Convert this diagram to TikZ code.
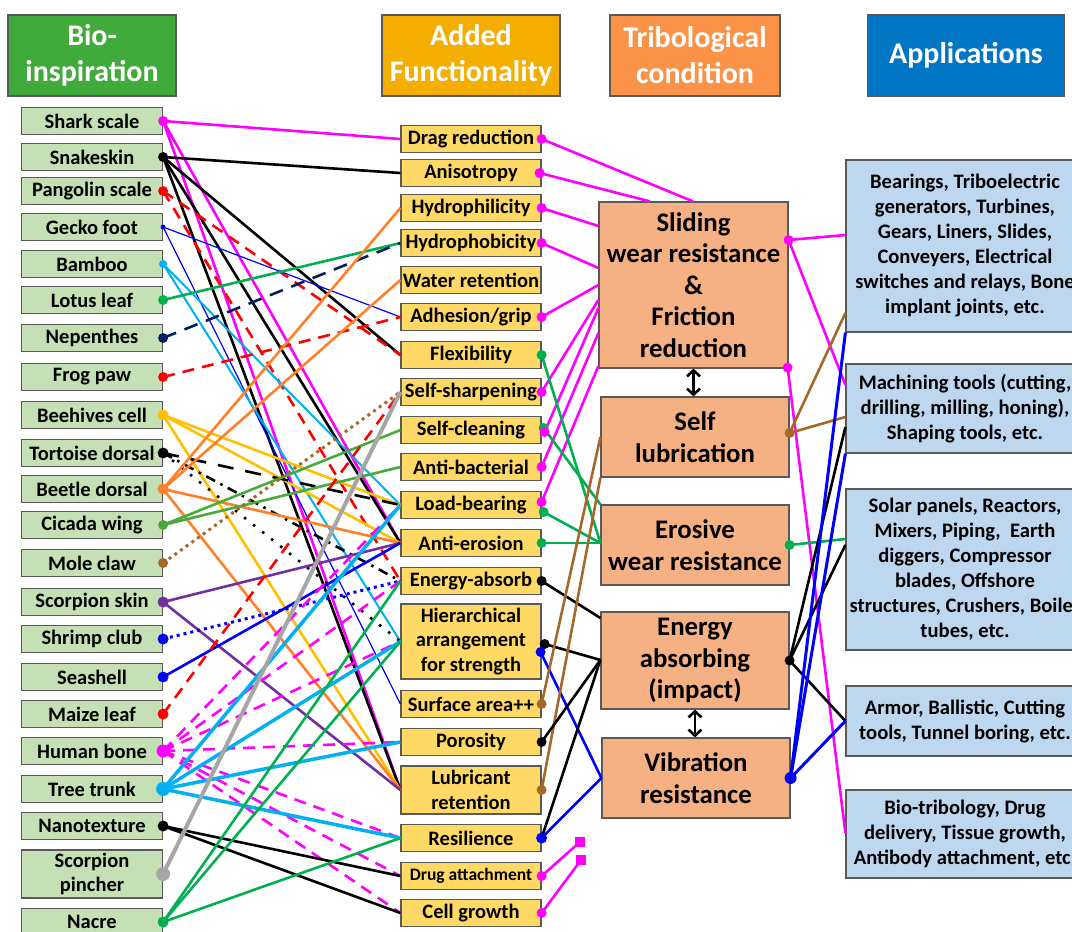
\documentclass[tikz,border=0pt]{standalone}
\usepackage{fontspec}
\setmainfont{Carlito}
\usetikzlibrary{arrows.meta}
\definecolor{hdrgreen}{RGB}{64,170,58}
\definecolor{hdrgold}{RGB}{243,174,0}
\definecolor{hdrorange}{RGB}{250,146,72}
\definecolor{hdrblue}{RGB}{0,118,196}
\definecolor{biofill}{RGB}{197,224,180}
\definecolor{funfill}{RGB}{255,217,102}
\definecolor{trifill}{RGB}{245,177,131}
\definecolor{appfill}{RGB}{189,215,238}
\definecolor{edgec}{RGB}{89,89,89}
\definecolor{cmag}{RGB}{255,0,255}
\definecolor{cred}{RGB}{255,0,0}
\definecolor{cblue}{RGB}{0,0,255}
\definecolor{lblue}{RGB}{0,176,240}
\definecolor{cgreen}{RGB}{0,176,80}
\definecolor{cicgreen}{RGB}{72,170,60}
\definecolor{cnavy}{RGB}{0,32,96}
\definecolor{cyellow}{RGB}{255,192,0}
\definecolor{corange}{RGB}{255,128,40}
\definecolor{cbrown}{RGB}{165,104,42}
\definecolor{cpurple}{RGB}{112,48,160}
\definecolor{cgray}{RGB}{166,166,166}
\begin{document}
\begin{tikzpicture}[x=1pt,y=-1pt,
  box/.style={draw=edgec, line width=1.2pt, inner sep=0pt, align=center, text=black},
  hdr/.style={box, minimum height=81pt, text=white, font=\fontsize{30}{36}\selectfont\bfseries},
  bio/.style={box, fill=biofill, minimum width=141pt, minimum height=27pt, font=\fontsize{20.5}{24.5}\selectfont\bfseries},
  fun/.style={box, fill=funfill, minimum width=140pt, minimum height=27pt, font=\fontsize{20.5}{24.5}\selectfont\bfseries},
  tri/.style={box, fill=trifill, minimum width=188pt, font=\fontsize{26.8}{31.5}\selectfont\bfseries},
  app/.style={box, fill=appfill, minimum width=238pt, font=\fontsize{20.6}{25}\selectfont\bfseries},
  ln/.style={line width=2.6pt},
  magS/.style={ln, cmag},
  blk/.style={ln, black},
  redD/.style={ln, cred, dash pattern=on 12pt off 8pt},
  bluT/.style={line width=1.2pt, cblue},
  lbM/.style={line width=2pt, lblue},
  grn/.style={ln, cgreen},
  navD/.style={ln, cnavy, dash pattern=on 14pt off 9pt},
  ylw/.style={ln, cyellow},
  tlong/.style={ln, black, dash pattern=on 16pt off 12pt},
  tdashdot/.style={ln, black, dash pattern=on 10pt off 6pt on 2.5pt off 6pt},
  tdot/.style={ln, black, dash pattern=on 2.5pt off 9pt},
  org/.style={ln, corange},
  cic/.style={ln, cicgreen},
  brnDot/.style={line width=3pt, cbrown, dash pattern=on 3pt off 4pt},
  pur/.style={ln, cpurple},
  bluDot/.style={line width=3pt, cblue, dash pattern=on 3pt off 4pt},
  blu/.style={ln, cblue},
  magD/.style={ln, cmag, dash pattern=on 12pt off 8pt},
  lbT/.style={line width=3.5pt, lblue},
  gry/.style={line width=4pt, cgray},
  brn/.style={ln, cbrown},
  dblarrow/.style={line width=2.6pt, black, {Straight Barb[length=6pt,width=13pt,line width=2.6pt]}-{Straight Barb[length=6pt,width=13pt,line width=2.6pt]}},
  sq/.style={fill=cmag, minimum size=10pt, inner sep=0pt}
]
\useasboundingbox (0,0) rectangle (1072,932);
\clip (0,0) rectangle (1072,932);

% headers
\node[hdr, fill=hdrgreen, minimum width=168pt] (hbio) at (92,55.5) {Bio-\\inspiration};
\node[hdr, fill=hdrgold, minimum width=178pt] (hfun) at (471,55.5) {Added\\Functionality};
\node[hdr, fill=hdrorange, minimum width=170pt] (htri) at (695,55.5) {Tribological\\condition};
\node[hdr, fill=hdrblue, minimum width=197pt] (happ) at (966,55.5) {Applications};

% bio-inspiration
\node[bio] (shark) at (92,121) {Shark scale};
\node[bio] (snake) at (92,157) {Snakeskin};
\node[bio] (pangolin) at (92,191) {Pangolin scale};
\node[bio] (gecko) at (92,227) {Gecko foot};
\node[bio] (bamboo) at (92,264) {Bamboo};
\node[bio] (lotus) at (92,300) {Lotus leaf};
\node[bio] (nepenthes) at (92,338) {Nepenthes};
\node[bio] (frog) at (92,377) {Frog paw};
\node[bio] (beehive) at (92,415) {Beehives cell};
\node[bio] (tortoise) at (92,453) {Tortoise dorsal};
\node[bio] (beetle) at (92,489) {Beetle dorsal};
\node[bio] (cicada) at (92,525) {Cicada wing};
\node[bio] (mole) at (92,563) {Mole claw};
\node[bio] (scorpskin) at (92,602) {Scorpion skin};
\node[bio] (shrimp) at (92,639) {Shrimp club};
\node[bio] (seashell) at (92,677) {Seashell};
\node[bio] (maize) at (92,714) {Maize leaf};
\node[bio] (humanbone) at (92,751) {Human bone};
\node[bio] (tree) at (92,789) {Tree trunk};
\node[bio] (nano) at (92,826) {Nanotexture};
\node[bio, minimum height=48pt] (pincher) at (92,874) {Scorpion\\pincher};
\node[bio] (nacre) at (92,922) {Nacre};

% added functionality
\node[fun] (drag) at (471,139) {Drag reduction};
\node[fun] (aniso) at (471,173) {Anisotropy};
\node[fun] (hydrophil) at (471,208) {Hydrophilicity};
\node[fun] (hydrophob) at (471,243) {Hydrophobicity};
\node[fun] (water) at (471,280) {Water retention};
\node[fun] (adhesion) at (471,317) {Adhesion/grip};
\node[fun] (flex) at (471,355) {Flexibility};
\node[fun] (selfsharp) at (471,392) {Self-sharpening};
\node[fun] (selfclean) at (471,430) {Self-cleaning};
\node[fun] (antibac) at (471,467) {Anti-bacterial};
\node[fun] (loadb) at (471,505) {Load-bearing};
\node[fun] (antiero) at (471,543) {Anti-erosion};
\node[fun] (energyabs) at (471,581) {Energy-absorb};
\node[fun, minimum height=75pt] (hier) at (471,641.5) {Hierarchical\\arrangement\\for strength};
\node[fun] (surface) at (471,704) {Surface area++};
\node[fun] (porosity) at (471,742) {Porosity};
\node[fun, minimum height=48pt] (lubret) at (471,790) {Lubricant\\retention};
\node[fun] (resil) at (471,838) {Resilience};
\node[fun, font=\fontsize{17.5}{20}\selectfont\bfseries] (drug) at (471,876) {Drug attachment};
\node[fun] (cell) at (471,913) {Cell growth};

% tribological conditions
\node[tri, minimum width=189pt, minimum height=166pt] (sliding) at (693.5,285) {Sliding\\wear resistance\\\&\\Friction\\reduction};
\node[tri, minimum height=80pt] (selflub) at (695,437) {Self\\lubrication};
\node[tri, minimum height=80pt] (erosive) at (695,545) {Erosive\\wear resistance};
\node[tri, minimum height=97pt] (energy) at (695,660.5) {Energy\\absorbing\\(impact)};
\node[tri, minimum height=80pt] (vibration) at (696,778) {Vibration\\resistance};

% applications
\node[app, minimum height=172pt] (app1) at (965,246) {Bearings, Triboelectric\\generators, Turbines,\\Gears, Liners, Slides,\\Conveyers, Electrical\\switches and relays, Bone\\implant joints, etc.};
\node[app, minimum height=89pt] (app2) at (965,408.5) {Machining tools (cutting,\\drilling, milling, honing),\\Shaping tools, etc.};
\node[app, minimum height=161pt] (app3) at (965,569.5) {Solar panels, Reactors,\\Mixers, Piping,\ \ Earth\\diggers, Compressor\\blades, Offshore\\structures, Crushers, Boiler\\tubes, etc.};
\node[app, minimum height=70pt] (app4) at (965,721) {Armor, Ballistic, Cutting\\tools, Tunnel boring, etc.};
\node[app, minimum height=88pt] (app5) at (965,834) {Bio-tribology, Drug\\delivery, Tissue growth,\\Antibody attachment, etc.};

% double arrows
\draw[dblarrow] (sliding.south) -- (sliding.south |- selflub.north);
\draw[dblarrow] (energy.south) -- (energy.south |- vibration.north);

% magenta squares
\node[sq] (sq1) at (580,842) {};
\node[sq] (sq2) at (581,860) {};

% ---------- bio -> functionality ----------
\draw[magS] (shark.east) -- (drag.west);
\draw[magS] (shark.east) -- (lubret.west);
\draw[magS] (shark.east) -- (antiero.west);
\draw[blk] (snake.east) -- (aniso.west);
\draw[blk] (snake.east) -- (flex.west);
\draw[blk] (snake.east) -- (lubret.west);
\draw[blk] (snake.east) -- (antiero.west);
\draw[redD] (pangolin.east) -- (flex.west);
\draw[redD] (pangolin.east) -- (energyabs.west);
\draw[bluT] (gecko.east) -- (adhesion.west);
\draw[bluT] (gecko.east) -- (surface.west);
\draw[lbM] (bamboo.east) -- (loadb.west);
\draw[lbM] (bamboo.east) -- (hier.west);
\draw[grn] (lotus.east) -- (hydrophob.west);
\draw[navD] (nepenthes.east) -- (hydrophob.west);
\draw[redD] (frog.east) -- (adhesion.west);
\draw[ylw] (beehive.east) -- (loadb.west);
\draw[ylw] (beehive.east) -- (antiero.west);
\draw[ylw] (beehive.east) -- (lubret.west);
\draw[tlong] (tortoise.east) -- (loadb.west);
\draw[tdashdot] (tortoise.east) -- (energyabs.west);
\draw[tdot] (tortoise.east) -- (hier.west);
\draw[org] (beetle.east) -- (hydrophil.west);
\draw[org] (beetle.east) -- (water.west);
\draw[org] (beetle.east) -- (antiero.west);
\draw[org] (beetle.east) -- (lubret.west);
\draw[cic] (cicada.east) -- (selfclean.west);
\draw[cic] (cicada.east) -- (antibac.west);
\draw[brnDot] (mole.east) -- (selfsharp.west);
\draw[pur] (scorpskin.east) -- (antiero.west);
\draw[pur] (scorpskin.east) -- (lubret.west);
\draw[bluDot] (shrimp.east) -- (energyabs.west);
\draw[blu] (seashell.east) -- (antiero.west);
\draw[redD] (maize.east) -- (selfsharp.west);
\draw[magD] (humanbone.east) -- (loadb.west);
\draw[magD] (humanbone.east) -- (energyabs.west);
\draw[magD] (humanbone.east) -- (hier.west);
\draw[magD] (humanbone.east) -- (porosity.west);
\draw[magD] (humanbone.east) -- (resil.west);
\draw[magD] (humanbone.east) -- (drug.west);
\draw[magD] (humanbone.east) -- (cell.west);
\draw[lbT] (tree.east) -- (loadb.west);
\draw[lbT] (tree.east) -- (hier.west);
\draw[lbT] (tree.east) -- (porosity.west);
\draw[lbT] (tree.east) -- (resil.west);
\draw[blk] (nano.east) -- (drug.west);
\draw[blk] (nano.east) -- (cell.west);
\draw[gry] (pincher.east) -- (selfsharp.west);
\draw[grn] (nacre.east) -- (energyabs.west);
\draw[grn] (nacre.east) -- (hier.west);
\draw[grn] (nacre.east) -- (resil.west);

% dots on bio column
\fill[cmag] (shark.east) circle[radius=5pt];
\fill[black] (snake.east) circle[radius=5pt];
\fill[cred] (pangolin.east) circle[radius=5pt];
\fill[cblue] (gecko.east) circle[radius=2.5pt];
\fill[lblue] (bamboo.east) circle[radius=4pt];
\fill[cgreen] (lotus.east) circle[radius=5pt];
\fill[cnavy] (nepenthes.east) circle[radius=5pt];
\fill[cred] (frog.east) circle[radius=5pt];
\fill[cyellow] (beehive.east) circle[radius=5.5pt];
\fill[black] (tortoise.east) circle[radius=5.5pt];
\fill[corange] (beetle.east) circle[radius=5.5pt];
\fill[cicgreen] (cicada.east) circle[radius=5pt];
\fill[cbrown] (mole.east) circle[radius=5pt];
\fill[cpurple] (scorpskin.east) circle[radius=5.5pt];
\fill[cblue] (shrimp.east) circle[radius=5.5pt];
\fill[cblue] (seashell.east) circle[radius=5.5pt];
\fill[cred] (maize.east) circle[radius=5.5pt];
\fill[cmag] (humanbone.east) circle[radius=6.5pt];
\fill[lblue] (tree.east) circle[radius=7pt];
\fill[black] (nano.east) circle[radius=5.5pt];
\fill[cgray] (pincher.east) circle[radius=7pt];
\fill[cgreen] (nacre.east) circle[radius=5.5pt];

% ---------- functionality -> tribological ----------
\draw[magS] (drag.east) -- (693,0 |- sliding.north);
\draw[magS] ([xshift=-2pt]aniso.east) -- (650,0 |- sliding.north);
\draw[magS] (hydrophil.east) -- (sliding.west |- 0,226);
\draw[magS] (hydrophob.east) -- (sliding.west |- 0,268);
\draw[magS] (adhesion.east) -- (sliding.west |- 0,285);
\draw[magS] (selfsharp.east) -- (sliding.west |- 0,300);
\draw[magS] ([xshift=3pt,yshift=-2pt]selfclean.east) -- (sliding.west |- 0,308);
\draw[magS] (antibac.east) -- (sliding.west |- 0,333);
\draw[magS] ([yshift=3pt]loadb.east) -- (sliding.west |- 0,366);
\draw[grn] (flex.east) -- (erosive.west |- 0,543);
\draw[grn] ([xshift=2pt,yshift=2pt]selfclean.east) -- (erosive.north west);
\draw[grn] ([xshift=2pt,yshift=-7pt]loadb.east) -- (erosive.west |- 0,543);
\draw[grn] (antiero.east) -- (erosive.west |- 0,543);
\draw[blk] (energyabs.east) -- (energy.west |- 0,618);
\draw[blk] ([xshift=3pt,yshift=-2.5pt]hier.east) -- (energy.west |- 0,660);
\draw[blu] ([xshift=-1pt,yshift=-10.5pt]hier.east) -- (vibration.west |- 0,778);
\draw[brn] (surface.east) -- (selflub.west |- 0,437);
\draw[brn] (lubret.east) -- (selflub.south west);
\draw[blk] (porosity.east) -- (energy.west |- 0,660);
\draw[blk] (resil.east) -- (energy.west |- 0,660);
\draw[blu] (resil.east) -- (vibration.west |- 0,778);
\draw[magS] (drug.east) -- (sq1.center);
\draw[magS] (cell.east) -- (sq2.center);

% dots on functionality column
\fill[cmag] (drag.east) circle[radius=5pt];
\fill[cmag] ([xshift=-2pt]aniso.east) circle[radius=5pt];
\fill[cmag] (hydrophil.east) circle[radius=5pt];
\fill[cmag] (hydrophob.east) circle[radius=5pt];
\fill[cmag] (adhesion.east) circle[radius=5pt];
\fill[cgreen] (flex.east) circle[radius=5pt];
\fill[cmag] (selfsharp.east) circle[radius=5pt];
\fill[cgreen] ([xshift=2pt,yshift=2pt]selfclean.east) circle[radius=5pt];
\fill[cmag] ([xshift=3pt,yshift=-2pt]selfclean.east) circle[radius=5pt];
\fill[cmag] (antibac.east) circle[radius=5pt];
\fill[cgreen] ([xshift=2pt,yshift=-7pt]loadb.east) circle[radius=5pt];
\fill[cmag] ([yshift=3pt]loadb.east) circle[radius=5pt];
\fill[cgreen] (antiero.east) circle[radius=5pt];
\fill[black] (energyabs.east) circle[radius=5pt];
\fill[black] ([xshift=3pt,yshift=-2.5pt]hier.east) circle[radius=5pt];
\fill[cblue] ([xshift=-1pt,yshift=-10.5pt]hier.east) circle[radius=5pt];
\fill[cbrown] (surface.east) circle[radius=5pt];
\fill[black] (porosity.east) circle[radius=5pt];
\fill[cbrown] (lubret.east) circle[radius=5pt];
\fill[cblue] (resil.east) circle[radius=5.5pt];
\fill[cmag] (drug.east) circle[radius=5pt];
\fill[cmag] (cell.east) circle[radius=5pt];

% ---------- tribological -> applications ----------
\draw[magS] ([yshift=45pt]sliding.east) -- (app1.west |- 0,235);
\draw[magS] ([yshift=45pt]sliding.east) -- (app2.west |- 0,385);
\draw[magS] ([xshift=-1pt,yshift=1pt]sliding.south east) -- (app5.west |- 0,833);
\draw[brn] ([yshift=4pt]selflub.east) -- (app1.west |- 0,313);
\draw[brn] ([yshift=4pt]selflub.east) -- (app2.west |- 0,417);
\draw[grn] (erosive.east) -- (app3.west |- 0,539);
\draw[blk] (energy.east) -- (app3.west |- 0,545);
\draw[blk] (energy.east) -- (app2.west |- 0,427);
\draw[blk] (energy.east) -- (app4.west);
\draw[line width=3pt, cblue] (vibration.east) -- (app4.west);
\draw[line width=3pt, cblue] (vibration.east) -- (app1.south west);
\draw[line width=3pt, cblue] (vibration.east) -- (app2.south west);

\fill[cmag] ([yshift=45pt]sliding.east) circle[radius=5pt];
\fill[cmag] ([xshift=-1pt,yshift=1pt]sliding.south east) circle[radius=5pt];
\fill[cbrown] ([yshift=4pt]selflub.east) circle[radius=5pt];
\fill[cgreen] (erosive.east) circle[radius=5pt];
\fill[black] (energy.east) circle[radius=5pt];
\fill[cblue] (vibration.east) circle[radius=6pt];
\end{tikzpicture}
\end{document}
